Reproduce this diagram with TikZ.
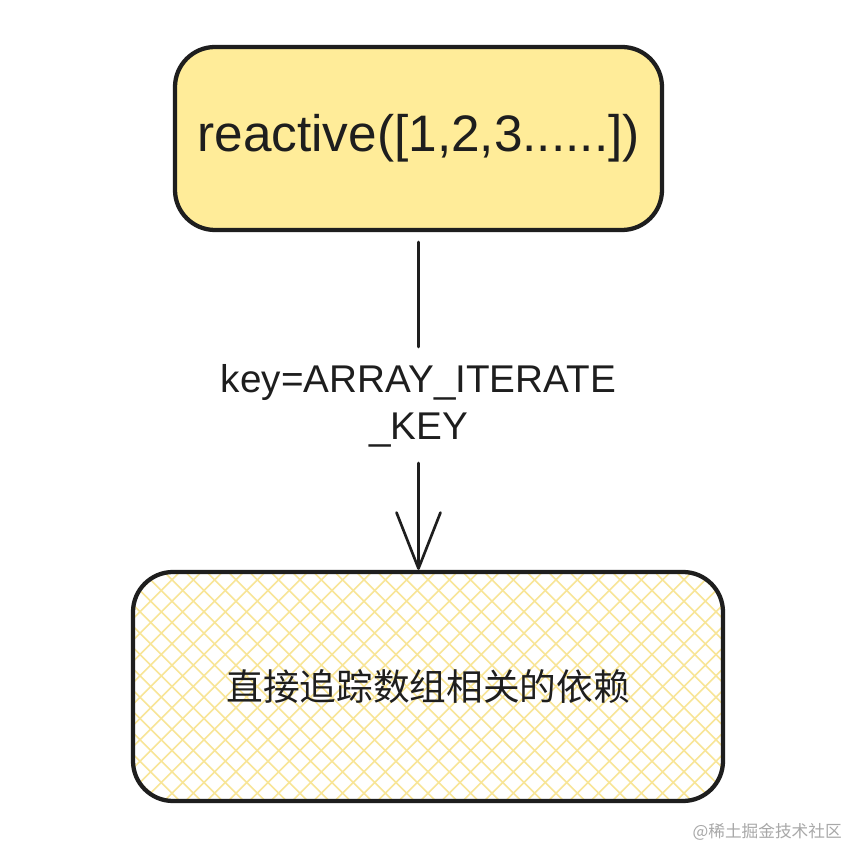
\documentclass[tikz,border=0pt]{standalone}
\usepackage{fontspec}
\setmainfont{Liberation Sans}
\newfontfamily\cjk{Noto Sans CJK SC}
\usetikzlibrary{arrows.meta}
\definecolor{ink}{HTML}{1E1E1E}
\definecolor{boxyellow}{HTML}{FFEC99}
\definecolor{hatchyellow}{HTML}{F8E597}
\definecolor{wm}{HTML}{A8A8A8}
\begin{document}
\begin{tikzpicture}[x=0.75pt,y=-0.75pt,
  box/.style={draw=ink,line width=3.2pt,rounded corners=30pt,inner sep=0pt},
  conn/.style={draw=ink,line width=2pt,line cap=round},
  hatchline/.style={draw=hatchyellow,line width=1.2pt},
  toptext/.style={font=\fontsize{38.5}{44}\selectfont,text=ink},
  labtext/.style={font=\fontsize{29}{35}\selectfont,text=ink,align=center,inner sep=0pt},
  cjktext/.style={font=\cjk\fontsize{27.5}{33}\selectfont,text=ink},
  wmtext/.style={font=\cjk\fontsize{12.5}{15}\selectfont,text=wm,inner sep=0pt}]
\useasboundingbox[fill=white] (0,0) rectangle (854,848);
% top box
\node[box,fill=boxyellow,minimum width=365.25pt,minimum height=137.25pt,toptext] (top) at (418.5,138.5) {reactive([1,2,3......])};
% bottom box with cross hatch
\node[box,fill=white,minimum width=442.5pt,minimum height=171.75pt,cjktext,
  path picture={
    \foreach \k in {-30,...,30}{
      \draw[hatchline] ([xshift=\k*16pt]path picture bounding box.center) ++(-300pt,-300pt) -- ++(600pt,600pt);
      \draw[hatchline] ([xshift=\k*16pt]path picture bounding box.center) ++(-300pt,300pt) -- ++(600pt,-600pt);
    }
  }] (bot) at (428,686.5) {直接追踪数组相关的依赖};
% label
\node[labtext] (lab) at (418.5,406) {key=ARRAY\_ITERATE\\\_KEY};
\coordinate (a0) at (418.5,242);
\coordinate (a1) at (418.5,347);
\coordinate (a2) at (418.5,463);
\draw[conn] (a0) -- (a1);
\draw[conn,-{Straight Barb[length=42pt,width=33pt,line join=round,line cap=round]}] (a2) -- (a2 |- bot.north);
% watermark
\node[wmtext,anchor=east] (wmark) at (842,832) {@稀土掘金技术社区};
\end{tikzpicture}
\end{document}
